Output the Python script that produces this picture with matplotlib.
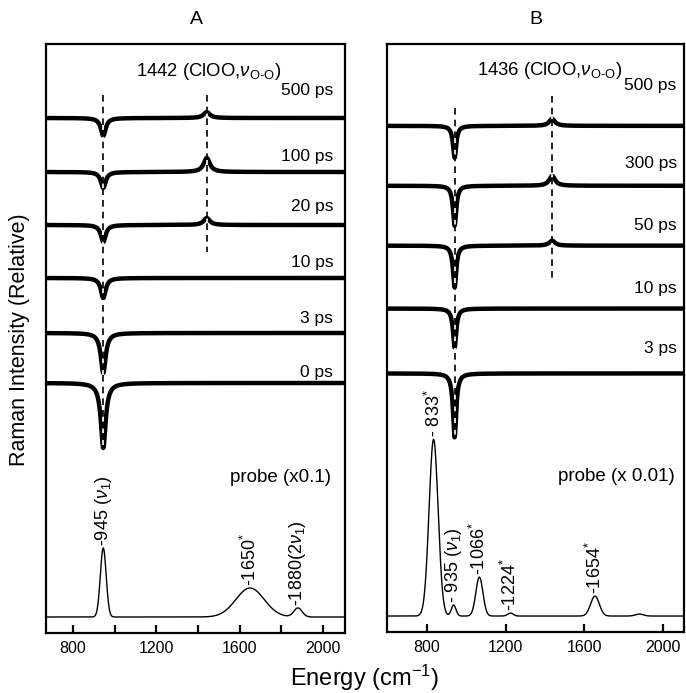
import numpy as np
import matplotlib
matplotlib.use('Agg')
import matplotlib.pyplot as plt

plt.rcParams['font.family'] = ['Liberation Sans', 'DejaVu Sans']
plt.rcParams['mathtext.fontset'] = 'custom'
plt.rcParams['mathtext.rm'] = 'Liberation Sans'
plt.rcParams['mathtext.it'] = 'Liberation Sans:italic'

######################################################################
# panel A : transient spectra (pump-probe delays) and probe spectrum
delays_a = ['500 ps', '100 ps', '20 ps', '10 ps', '3 ps', '0 ps']
bleach_depth_a = [18, 16, 17, 20, 40, 65]     # depletion of 945 band
cloo_height_a = [6, 14, 7, 0, 0, 0]           # 1442 ClOO band
bleach_pos_a = 945
cloo_pos_a = 1442

probe_pos_a = [945, 1650, 1880]
probe_height_a = [69, 29, 9]
probe_width_a = [14, 68, 20]
probe_labels_a = ['-945 ($\\nu_1$)', '-1650$^{*}$', '-1880(2$\\nu_1$)']

######################################################################
# panel B
delays_b = ['500 ps', '300 ps', '50 ps', '10 ps', '3 ps']
bleach_depth_b = [32, 40, 42, 39, 64]
cloo_height_b = [7, 10, 5, 0, 0]
bleach_pos_b = 940
cloo_pos_b = 1436

probe_pos_b = [833, 935, 1066, 1224, 1654, 1880]
probe_height_b = [177, 11, 39, 3, 20, 2]
probe_width_b = [23, 12, 18, 14, 22, 20]
probe_labels_b = ['- 833$^{*}$', '- 935 ($\\nu_1$)', '-1066$^{*}$', '-1224$^{*}$', '-1654$^{*}$', None]

######################################################################
# layout (vertical offsets of traces and of their labels, in axis units)
offsets_a = [515, 461, 408, 355, 300, 250]
label_y_a = [543, 476, 426, 371, 315, 261]
offsets_b = [507, 447, 387, 324, 259]
label_y_b = [547, 469, 407, 344, 284]
probe_offset = 16


def lorentz(x, x0, h, w):
    return h / (1 + ((x - x0) / w) ** 2)


def gauss(x, x0, h, w):
    return h * np.exp(-0.5 * ((x - x0) / w) ** 2)


def draw_panel(ax, xlim, delays, depth, bleach_pos, bleach_w, cloo, cloo_pos,
               offsets, label_y, ppos, pheight, pwidth, plabels, probe_text,
               dashes, label_x, cloo_text, cloo_x):
    x = np.linspace(xlim[0], xlim[1], 1500)

    # transient traces
    for lab, d, c, off, ly in zip(delays, depth, cloo, offsets, label_y):
        y = off - lorentz(x, bleach_pos, d, bleach_w) + lorentz(x, cloo_pos, c, 18)
        ax.plot(x, y, color='black', lw=3.2, solid_joinstyle='round')
        ax.text(label_x, ly, lab, ha='right', va='center', fontsize=12.5)

    # probe spectrum
    yp = np.full_like(x, probe_offset, dtype=float)
    for p, h, w in zip(ppos, pheight, pwidth):
        yp += gauss(x, p, h, w)
    ax.plot(x, yp, color='black', lw=1.0)
    for p, lab in zip(ppos, plabels):
        if lab is None:
            continue
        ytop = np.interp(p, x, yp)
        ax.text(p, ytop + 2, lab, rotation=90, ha='center', va='bottom', fontsize=13)
    ax.text(label_x - 10, 156, probe_text, ha='right', va='center', fontsize=13.5)

    # dashed guides
    for xd, (y0, y1) in dashes:
        ax.plot([xd, xd], [y0, y1], color='black', lw=1.2, ls=(0, (4, 3)),
                gapcolor='white')

    ax.text(cloo_x, 562, cloo_text, ha='center', va='center', fontsize=13.3)

    ax.set_xlim(*xlim)
    ax.set_ylim(0, 589)
    ax.set_yticks([])
    for s in ax.spines.values():
        s.set_linewidth(1.6)
    ax.tick_params(axis='x', direction='in', length=6, width=1.6, labelsize=11.5, pad=6)


fig = plt.figure(figsize=(6.86, 6.93), dpi=100)
ax_a = fig.add_axes([46 / 686, 60 / 693, 299 / 686, 589 / 693])
ax_b = fig.add_axes([387 / 686, 61 / 693, 297 / 686, 588 / 693])

draw_panel(ax_a, (670, 2106), delays_a, bleach_depth_a, bleach_pos_a, 14,
           cloo_height_a, cloo_pos_a, offsets_a, label_y_a, probe_pos_a,
           probe_height_a, probe_width_a, probe_labels_a, 'probe (x0.1)',
           [(945, (538, 183)), (1442, (538, 381))], 2050,
           '1442 (ClOO,$\\nu_{\\rm O\\text{-}O}$)', 1452)
draw_panel(ax_b, (596, 2107), delays_b, bleach_depth_b, bleach_pos_b, 10,
           cloo_height_b, cloo_pos_b, offsets_b, label_y_b, probe_pos_b,
           probe_height_b, probe_width_b, probe_labels_b, 'probe (x 0.01)',
           [(940, (525, 195)), (1436, (537, 355))], 2070,
           '1436 (ClOO,$\\nu_{\\rm O\\text{-}O}$)', 1425)

ax_a.set_xticks(np.arange(800, 2001, 200))
ax_a.set_xticklabels(['800', '', '1200', '', '1600', '', '2000'])
ax_b.set_xticks([800, 1200, 1600, 2000])

fig.text(196 / 686, 1 - 20 / 693, 'A', ha='center', va='center', fontsize=14)
fig.text(536 / 686, 1 - 20 / 693, 'B', ha='center', va='center', fontsize=14)
fig.text(20 / 686, 1 - 340 / 693, 'Raman Intensity (Relative)', rotation=90,
         ha='center', va='center', fontsize=15.5)
fig.text(365 / 686, 1 - 678 / 693, 'Energy (cm$^{-1}$)', ha='center', va='center',
         fontsize=17)

fig.savefig('out.png', dpi=100)
